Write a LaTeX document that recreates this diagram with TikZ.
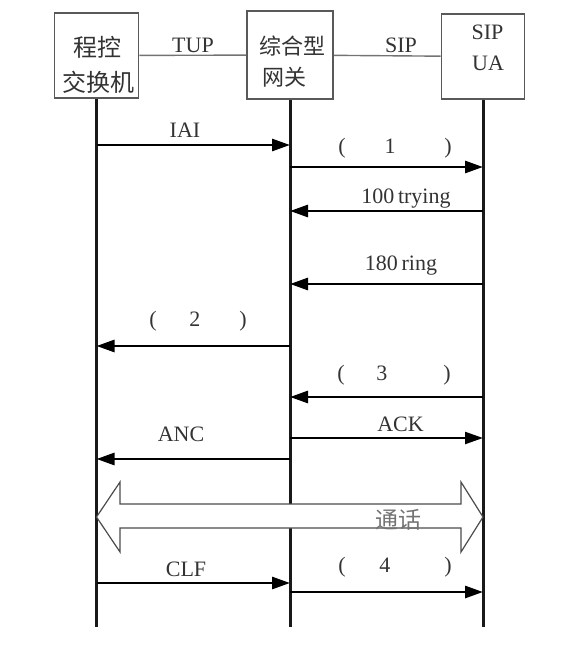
\documentclass[tikz,border=0pt]{standalone}
\usepackage{fontspec}
\setmainfont{Liberation Serif}
\newfontfamily\cjk{Noto Sans CJK SC}
\usetikzlibrary{arrows.meta}
\newcommand{\callno}[3]{(\hspace{#1pt}#2\hspace{#3pt})}

\begin{document}
\begin{tikzpicture}[x=1pt,y=-1pt,
    ent/.style={draw=black!65,line width=1.6pt,fill=white,inner sep=0pt},
    link/.style={draw=black!55,line width=1.4pt},
    life/.style={draw=black!90,line width=3pt},
    msg/.style={draw=black,line width=2.8pt,-{Triangle[length=18pt,width=12pt]}},
    lbl/.style={anchor=base,text=black!80,inner sep=0pt,font=\fontsize{22}{24}\selectfont},
    zh/.style={text=black!80,inner sep=0pt,font=\cjk\fontsize{22}{24}\selectfont},
    talk/.style={draw=black!70,line width=1.2pt,fill=white,line join=miter}]
  \useasboundingbox (0,0) rectangle (570,651);

  \node[ent,minimum width=84pt,minimum height=85pt] (pbx) at (96.5,55.5) {};
  \node[ent,minimum width=86pt,minimum height=88pt] (gw) at (290,55) {};
  \node[ent,minimum width=83pt,minimum height=85pt] (ua) at (483,56.5) {};

  \node[zh,font=\cjk\fontsize{24}{26}\selectfont] (pbx-a) at (97.5,47.5) {程控};
  \node[zh,font=\cjk\fontsize{24}{26}\selectfont] (pbx-b) at (98.8,82.7) {交换机};
  \node[zh] (gw-a) at (292,45.8) {综合型};
  \node[zh] (gw-b) at (284.7,76.7) {网关};
  \node[lbl] (ua-a) at (487.5,39) {SIP};
  \node[lbl] (ua-b) at (488,70.5) {UA};

  \draw[link] (pbx) -- (gw);
  \draw[link] (gw) -- (ua);
  \node[lbl] (tup) at (193,52) {TUP};
  \node[lbl] (sip) at (401,52) {SIP};

  \coordinate (pbx-end) at (96.5,627);
  \coordinate (gw-end) at (290,627);
  \coordinate (ua-end) at (483,627);
  \draw[life] (pbx.south) -- (pbx-end);
  \draw[life] (gw.south) -- (gw-end);
  \draw[life] (ua.south) -- (ua-end);

  \coordinate (iai-a) at (96.5,145);  \coordinate (iai-b) at (290,145);
  \draw[msg] (iai-a) -- (iai-b);
  \node[lbl] (iai) at (185,137) {IAI};

  \coordinate (m1-a) at (290,167);  \coordinate (m1-b) at (483,167);
  \draw[msg] (m1-a) -- (m1-b);
  \node[lbl] (m1) at (395,153) {\callno{38.9}{1}{48.8}};

  \coordinate (try-a) at (483,211);  \coordinate (try-b) at (290,211);
  \draw[msg] (try-a) -- (try-b);
  \node[lbl] (try) at (406,203) {100\,trying};

  \coordinate (ring-a) at (483,284);  \coordinate (ring-b) at (290,284);
  \draw[msg] (ring-a) -- (ring-b);
  \node[lbl] (ring) at (401,270) {180\,ring};

  \coordinate (m2-a) at (290,346);  \coordinate (m2-b) at (96.5,346);
  \draw[msg] (m2-a) -- (m2-b);
  \node[lbl] (m2) at (198,326) {\callno{32.9}{2}{38.9}};

  \coordinate (m3-a) at (483,397);  \coordinate (m3-b) at (290,397);
  \draw[msg] (m3-a) -- (m3-b);
  \node[lbl] (m3) at (394,380) {\callno{31.9}{3}{55.9}};

  \coordinate (ack-a) at (290,438);  \coordinate (ack-b) at (483,438);
  \draw[msg,line width=2.3pt] (ack-a) -- (ack-b);
  \node[lbl] (ack) at (400.5,431.5) {ACK};

  \coordinate (anc-a) at (290,459);  \coordinate (anc-b) at (96.5,459);
  \draw[msg] (anc-a) -- (anc-b);
  \node[lbl] (anc) at (181,441.5) {ANC};

  \coordinate (talk-a) at (96.5,517);  \coordinate (talk-b) at (483,517);
  \draw[talk] (talk-a) -- ++(23.5,-35) -- ++(0,22) -- ++(341,0) -- ++(0,-22)
    -- (talk-b) -- ++(-22,35) -- ++(0,-24) -- ++(-341,0) -- ++(0,24) -- cycle;
  \node[zh,text=black!55,font=\cjk\fontsize{23}{25}\selectfont] (talk) at (398,519.5) {通话};

  \coordinate (clf-a) at (96.5,583);  \coordinate (clf-b) at (290,583);
  \draw[msg] (clf-a) -- (clf-b);
  \node[lbl] (clf) at (186,576) {CLF};

  \coordinate (m4-a) at (290,592);  \coordinate (m4-b) at (483,592);
  \draw[msg] (m4-a) -- (m4-b);
  \node[lbl] (m4) at (395,572) {\callno{33.9}{4}{53.9}};
\end{tikzpicture}
\end{document}
